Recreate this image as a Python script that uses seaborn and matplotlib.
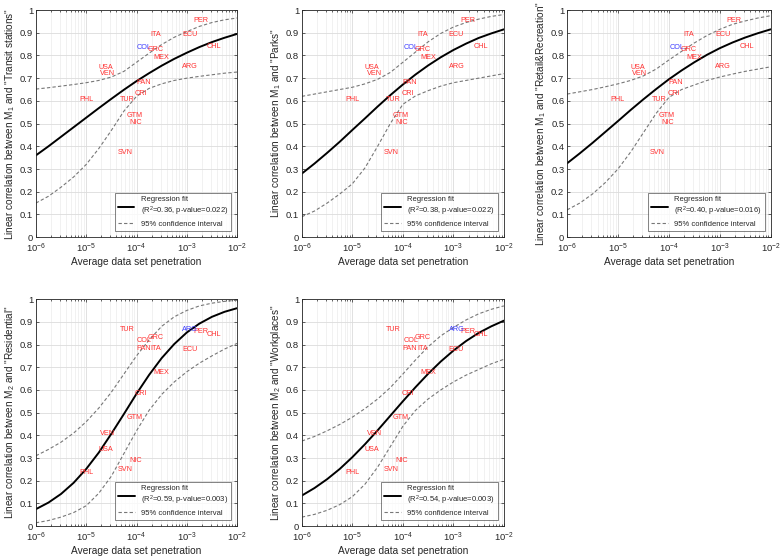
import numpy as np
import pandas as pd
import matplotlib
matplotlib.use("Agg")
import matplotlib.pyplot as plt
import seaborn as sb

# x positions of curve samples, log10 of penetration (quarter decades)
log_x = [-6, -5.75, -5.5, -5.25, -5, -4.75, -4.5, -4.25, -4,
         -3.75, -3.5, -3.25, -3, -2.75, -2.5, -2.25, -2]

# fit, upper CI, lower CI for each panel
fit_transit = [0.360, 0.400, 0.442, 0.484, 0.526, 0.568, 0.609, 0.649, 0.687,
               0.722, 0.755, 0.785, 0.812, 0.837, 0.859, 0.878, 0.895]
up_transit = [0.652, 0.658, 0.665, 0.672, 0.680, 0.690, 0.705, 0.730, 0.770,
              0.810, 0.848, 0.880, 0.905, 0.928, 0.945, 0.957, 0.965]
lo_transit = [0.150, 0.180, 0.220, 0.265, 0.320, 0.390, 0.470, 0.555, 0.620,
              0.655, 0.675, 0.690, 0.700, 0.708, 0.715, 0.722, 0.727]

fit_parks = [0.280, 0.324, 0.371, 0.420, 0.472, 0.523, 0.575, 0.625, 0.672,
             0.716, 0.756, 0.792, 0.824, 0.852, 0.877, 0.897, 0.915]
up_parks = [0.620, 0.630, 0.640, 0.650, 0.660, 0.675, 0.695, 0.725, 0.770,
            0.815, 0.860, 0.897, 0.925, 0.945, 0.960, 0.972, 0.980]
lo_parks = [0.090, 0.115, 0.150, 0.190, 0.235, 0.305, 0.400, 0.500, 0.585,
            0.622, 0.645, 0.665, 0.680, 0.690, 0.700, 0.710, 0.720]

fit_retail = [0.325, 0.369, 0.415, 0.463, 0.511, 0.560, 0.607, 0.652, 0.695,
              0.734, 0.770, 0.803, 0.832, 0.857, 0.879, 0.898, 0.915]
up_retail = [0.630, 0.640, 0.650, 0.662, 0.675, 0.690, 0.710, 0.740, 0.780,
             0.818, 0.855, 0.888, 0.915, 0.937, 0.952, 0.965, 0.975]
lo_retail = [0.120, 0.150, 0.190, 0.240, 0.300, 0.375, 0.460, 0.545, 0.615,
             0.650, 0.670, 0.690, 0.705, 0.718, 0.730, 0.740, 0.750]

fit_resid = [0.075, 0.104, 0.142, 0.191, 0.252, 0.324, 0.407, 0.494, 0.583,
             0.666, 0.740, 0.802, 0.853, 0.892, 0.922, 0.944, 0.960]
up_resid = [0.310, 0.338, 0.370, 0.410, 0.460, 0.520, 0.590, 0.670, 0.750,
            0.820, 0.880, 0.922, 0.950, 0.970, 0.982, 0.990, 0.995]
lo_resid = [0.015, 0.025, 0.040, 0.060, 0.090, 0.145, 0.220, 0.320, 0.420,
            0.510, 0.580, 0.635, 0.680, 0.718, 0.750, 0.780, 0.805]

fit_work = [0.135, 0.168, 0.207, 0.252, 0.304, 0.361, 0.422, 0.486, 0.550,
            0.612, 0.671, 0.725, 0.773, 0.815, 0.851, 0.880, 0.905]
up_work = [0.375, 0.395, 0.420, 0.448, 0.480, 0.518, 0.560, 0.610, 0.670,
           0.732, 0.790, 0.838, 0.875, 0.908, 0.935, 0.955, 0.970]
lo_work = [0.040, 0.052, 0.070, 0.095, 0.130, 0.185, 0.260, 0.350, 0.440,
           0.510, 0.560, 0.600, 0.635, 0.665, 0.690, 0.715, 0.735]

# country labels
tari = ["PER", "ITA", "ECU", "COL", "GRC", "MEX", "CHL", "USA", "VEN",
        "ARG", "PAN", "CRI", "PHL", "TUR", "GTM", "NIC", "SVN"]
log_pen = [-2.86, -3.72, -3.09, -3.99, -3.77, -3.66, -2.60, -4.75, -4.72,
           -3.09, -4.01, -4.03, -5.14, -4.33, -4.20, -4.15, -4.38]
corr_m1 = [0.952, 0.894, 0.894, 0.833, 0.825, 0.793, 0.840, 0.749, 0.721,
           0.750, 0.680, 0.633, 0.604, 0.604, 0.536, 0.507, 0.373]
corr_m2 = [0.856, 0.782, 0.779, 0.816, 0.829, 0.676, 0.846, 0.337, 0.410,
           0.866, 0.782, 0.585, 0.238, 0.868, 0.478, 0.288, 0.250]

panouri = [
  ("Transit stations", 1, fit_transit, up_transit, lo_transit, corr_m1, "COL", "0.36", "0.022"),
  ("Parks", 1, fit_parks, up_parks, lo_parks, corr_m1, "COL", "0.38", "0.022"),
  ("Retail&Recreation", 1, fit_retail, up_retail, lo_retail, corr_m1, "COL", "0.40", "0.016"),
  ("Residential", 2, fit_resid, up_resid, lo_resid, corr_m2, "ARG", "0.59", "0.003"),
  ("Workplaces", 2, fit_work, up_work, lo_work, corr_m2, "ARG", "0.54", "0.003"),
]

pozitii = [
  [0.046, 0.575, 0.258, 0.407],
  [0.387, 0.575, 0.259, 0.407],
  [0.727, 0.575, 0.261, 0.407],
  [0.046, 0.057, 0.258, 0.407],
  [0.387, 0.057, 0.259, 0.407],
]

sb.set_style("ticks")
plt.rcParams['font.family'] = ['Liberation Sans', 'DejaVu Sans']
plt.rcParams['mathtext.fontset'] = 'custom'
plt.rcParams['mathtext.rm'] = 'Liberation Sans'
plt.rcParams['mathtext.it'] = 'Liberation Sans'

fig = plt.figure(figsize=(7.8, 5.58), dpi=100)
xs = [10.0 ** t for t in log_x]

for (nume, m, fit, up, lo, corr, albastru, r2, pval), poz in zip(panouri, pozitii):
  ax = fig.add_axes(poz)
  df = pd.DataFrame({"x": xs, "fit": fit, "up": up, "lo": lo})

  sb.lineplot(data=df, x="x", y="fit", color="black", linewidth=1.4, ax=ax,
              label="Regression fit\n(R$^2$=" + r2 + ", p-value=" + pval + ")")
  sb.lineplot(data=df, x="x", y="up", color="#777777", linewidth=0.8,
              linestyle=(0, (3, 2)), ax=ax, label="95% confidence interval")
  sb.lineplot(data=df, x="x", y="lo", color="#777777", linewidth=0.8,
              linestyle=(0, (3, 2)), ax=ax, label="_nolegend_")

  for i in range(len(tari)):
    culoare = "#3b3bff" if tari[i] == albastru else "#ff3030"
    ax.text(10.0 ** log_pen[i], corr[i], tari[i], color=culoare, fontsize=5.2,
            ha="left", va="center")

  ax.set_xscale("log")
  ax.set_xlim(1e-6, 1e-2)
  ax.set_ylim(0, 1)
  ax.set_yticks(np.arange(0, 1.01, 0.1))
  ax.set_yticklabels(["0"] + ["%.1f" % v for v in np.arange(0.1, 0.95, 0.1)] + ["1"])
  ax.set_xticks([1e-6, 1e-5, 1e-4, 1e-3, 1e-2])
  ax.set_xticklabels(["10$^{-6}$", "10$^{-5}$", "10$^{-4}$", "10$^{-3}$", "10$^{-2}$"])
  ax.grid(True, which="major", color="#dcdcdc", linewidth=0.6)
  ax.grid(True, which="minor", axis="x", color="#ececec", linewidth=0.5)
  ax.set_axisbelow(True)
  ax.tick_params(which="both", direction="in", top=True, right=True,
                 labelsize=6.8, colors="#262626", width=0.5, pad=2)
  ax.tick_params(axis="x", which="major", pad=3.5)
  ax.tick_params(which="major", length=2.5)
  ax.tick_params(which="minor", length=1.3)
  for s in ax.spines.values():
    s.set_color("#262626")
    s.set_linewidth(0.6)

  ax.set_xlabel("Average data set penetration", fontsize=7.3, color="#262626", labelpad=1.5)
  ax.set_ylabel("Linear correlation between M$_" + str(m) + "$ and \"" + nume + "\"",
                fontsize=7.2, color="#262626", labelpad=2)

  leg = ax.legend(loc="lower right", fontsize=5.5, handlelength=2.2, frameon=True,
                  fancybox=False, borderpad=0.4, labelspacing=0.3,
                  edgecolor="#262626", borderaxespad=0.8)
  leg.get_frame().set_linewidth(0.5)

fig.savefig("out.png", dpi=100)
